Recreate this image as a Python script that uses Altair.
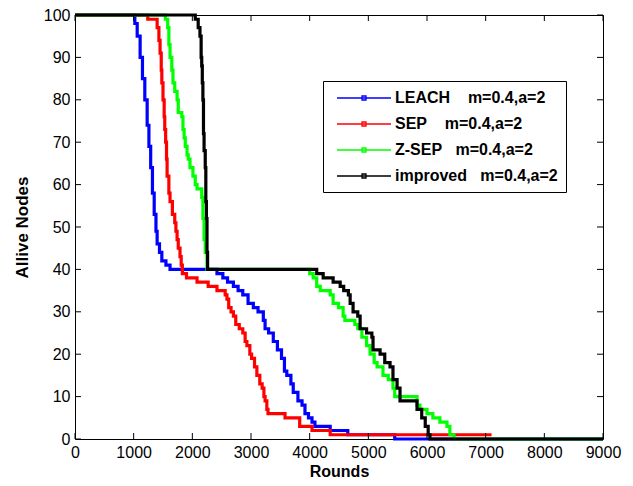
import altair as alt
import pandas as pd

NB = "\u00a0"
series_names = [
    "LEACH" + NB * 4 + "m=0.4,a=2",
    "SEP" + NB * 4 + "m=0.4,a=2",
    "Z-SEP" + NB * 3 + "m=0.4,a=2",
    "improved" + NB * 3 + "m=0.4,a=2",
]
series_colors = ["#0000ff", "#ff0000", "#00ff00", "#000000"]

leach_rounds = [0, 1020, 1060, 1110, 1150, 1190, 1230, 1260, 1290, 1320, 1350, 1380, 1400, 1440, 1480,
                1550, 1620, 2420, 2520, 2600, 2700, 2780, 2860, 2950, 3040, 3120, 3210, 3240, 3300,
                3380, 3450, 3520, 3570, 3610, 3680, 3720, 3800, 3870, 3920, 3980, 4040, 4090, 4350,
                4650, 5450, 9000]
leach_nodes = [100, 98, 95, 90, 85, 80, 74, 69, 64, 58, 53, 49, 46, 44, 42,
               41, 40, 39, 38, 37, 36, 35, 34, 32, 31, 30, 28, 26, 25,
               23, 21, 19, 16, 15, 13, 11, 9, 8, 6, 5, 4, 3, 2,
               1, 0, 0]

sep_rounds = [0, 1240, 1400, 1430, 1450, 1470, 1480, 1500, 1520, 1530, 1545, 1560, 1570, 1600, 1620,
              1660, 1700, 1720, 1740, 1760, 1790, 1810, 1830, 1900, 2080, 2270, 2420, 2560, 2590,
              2620, 2660, 2700, 2740, 2800, 2860, 2900, 2930, 2980, 3010, 3060, 3100, 3150, 3190,
              3220, 3240, 3270, 3290, 3580, 3830, 4040, 4350, 7100]
sep_nodes = [100, 99, 97, 94, 91, 87, 84, 80, 76, 73, 70, 66, 62, 58, 56,
             53, 51, 49, 47, 45, 43, 41, 39, 38, 37, 36, 35, 34, 33,
             31, 30, 29, 27, 26, 25, 23, 22, 20, 19, 17, 15, 13, 12,
             10, 9, 7, 6, 5, 3, 2, 1, 1]

zsep_rounds = [0, 1540, 1580, 1600, 1620, 1650, 1670, 1700, 1740, 1760, 1820, 1840, 1860, 1880, 1910,
               1930, 1960, 2010, 2050, 2080, 2160, 2180, 2200, 2220, 2250, 4000, 4060, 4120, 4180,
               4350, 4400, 4490, 4570, 4600, 4770, 4820, 4890, 4970, 5030, 5100, 5150, 5250, 5340,
               5420, 5450, 5830, 5880, 6000, 6100, 6220, 6340, 6390, 6460, 9000]
zsep_nodes = [100, 99, 97, 93, 90, 87, 84, 82, 80, 77, 76, 73, 71, 69, 67,
              66, 64, 62, 60, 59, 57, 52, 47, 44, 40, 39, 38, 36, 35,
              34, 32, 31, 29, 28, 27, 26, 24, 22, 20, 18, 17, 15, 14,
              12, 10, 8, 7, 6, 5, 4, 3, 1, 0, 0]

impr_rounds = [0, 2050, 2100, 2130, 2150, 2160, 2170, 2180, 2190, 2200, 2220, 2230, 2240, 2250, 2260,
               4090, 4120, 4230, 4350, 4400, 4520, 4580, 4660, 4690, 4740, 4820, 4860, 4970, 5060,
               5080, 5200, 5280, 5370, 5420, 5490, 5540, 5800, 5830, 5910, 5970, 6020, 6050, 9000]
impr_nodes = [100, 99, 97, 95, 90, 88, 84, 80, 72, 68, 64, 56, 52, 44, 40,
              40, 39, 38, 38, 37, 36, 35, 34, 32, 30, 29, 26, 25, 24,
              21, 20, 18, 17, 14, 12, 9, 9, 7, 5, 3, 1, 0, 0]

x_ticks = [0, 1000, 2000, 3000, 4000, 5000, 6000, 7000, 8000, 9000]
y_ticks = [0, 10, 20, 30, 40, 50, 60, 70, 80, 90, 100]

all_rounds = [leach_rounds, sep_rounds, zsep_rounds, impr_rounds]
all_nodes = [leach_nodes, sep_nodes, zsep_nodes, impr_nodes]

FONT = "Liberation Sans"
W, H = 528, 424
xscale = alt.Scale(domain=[0, 9000], nice=False, zero=False)
yscale = alt.Scale(domain=[0, 100], nice=False, zero=False)
cscale = alt.Scale(domain=series_names, range=series_colors)

x_axis = alt.Axis(values=x_ticks, format="d", ticks=False, domain=False, grid=False, labelFlush=False,
                  labelOverlap=False, labelFont=FONT, labelFontSize=16, labelColor="#000",
                  labelPadding=5, title="Rounds", titleFont=FONT, titleFontSize=16,
                  titleFontWeight="bold", titleColor="#000", titleBaseline="alphabetic",
                  titleY=37)
y_axis = alt.Axis(values=y_ticks, format="d", ticks=False, domain=False, grid=False, labelFlush=False,
                  labelOverlap=False, labelFont=FONT, labelFontSize=16, labelColor="#000",
                  labelPadding=5, title="Allive Nodes", titleFont=FONT, titleFontSize=17,
                  titleFontWeight="bold", titleColor="#000", titlePadding=12)

layers = []
for i, name in enumerate(series_names):
    df = pd.DataFrame({"round": all_rounds[i], "nodes": all_nodes[i], "series": name})
    layers.append(
        alt.Chart(df).mark_line(interpolate="step-after", strokeWidth=3.2).encode(
            x=alt.X("round:Q", scale=xscale, axis=x_axis),
            y=alt.Y("nodes:Q", scale=yscale, axis=y_axis),
            color=alt.Color("series:N", scale=cscale, legend=alt.Legend(title=None)),
        )
    )

xt = pd.DataFrame({"round": x_ticks})
yt = pd.DataFrame({"nodes": y_ticks})
tick_color = "#000"
ticks_bottom = alt.Chart(xt).mark_rule(color=tick_color, strokeWidth=1).encode(
    x=alt.X("round:Q", scale=xscale), y=alt.value(H), y2=alt.value(H - 6))
ticks_top = alt.Chart(xt).mark_rule(color=tick_color, strokeWidth=1).encode(
    x=alt.X("round:Q", scale=xscale), y=alt.value(0), y2=alt.value(6))
ticks_left = alt.Chart(yt).mark_rule(color=tick_color, strokeWidth=1).encode(
    y=alt.Y("nodes:Q", scale=yscale), x=alt.value(0), x2=alt.value(6))
ticks_right = alt.Chart(yt).mark_rule(color=tick_color, strokeWidth=1).encode(
    y=alt.Y("nodes:Q", scale=yscale), x=alt.value(W), x2=alt.value(W - 6))

chart = alt.layer(*layers, ticks_bottom, ticks_top, ticks_left, ticks_right).properties(
    width=W, height=H,
    autosize=alt.AutoSizeParams(type="none"),
    padding={"left": 67, "top": 7, "right": 22, "bottom": 39},
    background="#ffffff",
).configure_view(
    stroke="#000", strokeWidth=1
).configure_legend(
    orient="none", legendX=248, legendY=66, padding=8,
    strokeColor="#000", fillColor="#ffffff",
    symbolType="M-0.375,0H6.375M2.75,-0.25H3.25V0.25H2.75Z",
    symbolSize=256, symbolStrokeWidth=1.3,
    labelFont=FONT, labelFontSize=16, labelFontWeight="bold", labelColor="#000",
    labelOffset=46, rowPadding=9, labelLimit=400,
)

chart.save("out.html", embed_options={"renderer": "svg", "actions": False})
